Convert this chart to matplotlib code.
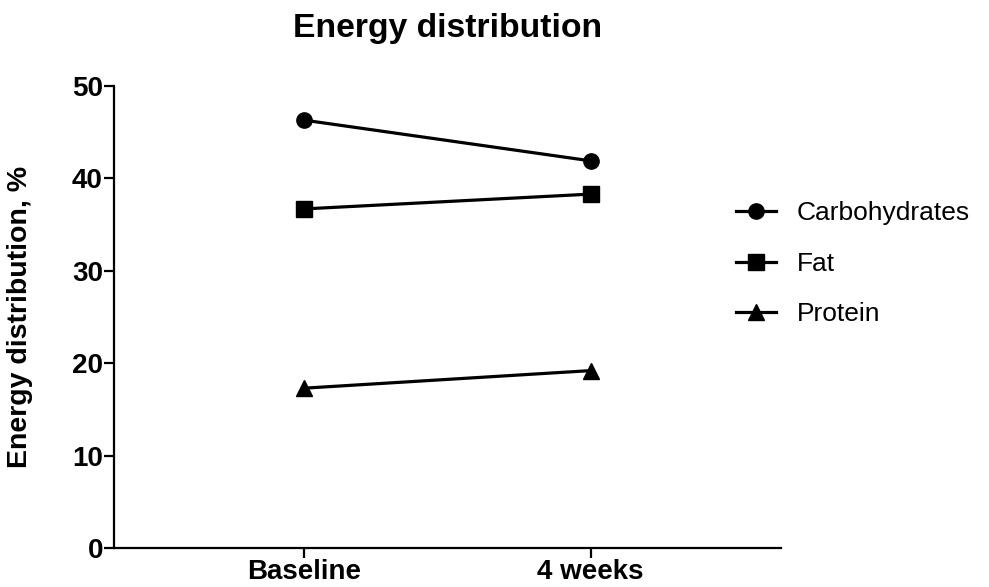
import numpy as np
import matplotlib.pyplot as plt

plt.rcParams['font.family'] = ['Liberation Sans', 'DejaVu Sans']

timepoints = ["Baseline", "4 weeks"]
carbs = [46.3, 41.9]
fat = [36.7, 38.3]
protein = [17.3, 19.2]

fig = plt.figure(figsize=(9.89, 5.87), dpi=100)
ax = fig.add_axes([0.1153, 0.0664, 0.6744, 0.7871])

x = np.arange(len(timepoints))
ax.plot(x, carbs, marker="o", color="black", lw=2.3, markersize=11, label="Carbohydrates")
ax.plot(x, fat, marker="s", color="black", lw=2.3, markersize=11, label="Fat")
ax.plot(x, protein, marker="^", color="black", lw=2.3, markersize=11, label="Protein")

ax.set_xlim(-0.665, 1.665)
ax.set_ylim(0, 50)
ax.set_yticks([0, 10, 20, 30, 40, 50])
ax.set_xticks(x)
ax.set_xticklabels(timepoints)

for s in ["top", "right"]:
    ax.spines[s].set_visible(False)
for s in ["left", "bottom"]:
    ax.spines[s].set_linewidth(1.6)

ax.tick_params(axis="both", direction="out", length=7, width=1.6, labelsize=20, pad=1)
for lab in ax.get_xticklabels() + ax.get_yticklabels():
    lab.set_fontweight("bold")

ax.set_ylabel("Energy distribution, %", fontsize=20.5, fontweight="bold", labelpad=28)
ax.set_title("Energy distribution", fontsize=24.3, fontweight="bold", pad=35)

ax.legend(loc="center left", bbox_to_anchor=(0.897, 0.615), frameon=False, fontsize=19,
          handlelength=1.5, handletextpad=0.8, labelspacing=1.0)

fig.savefig("out.png", dpi=100)
